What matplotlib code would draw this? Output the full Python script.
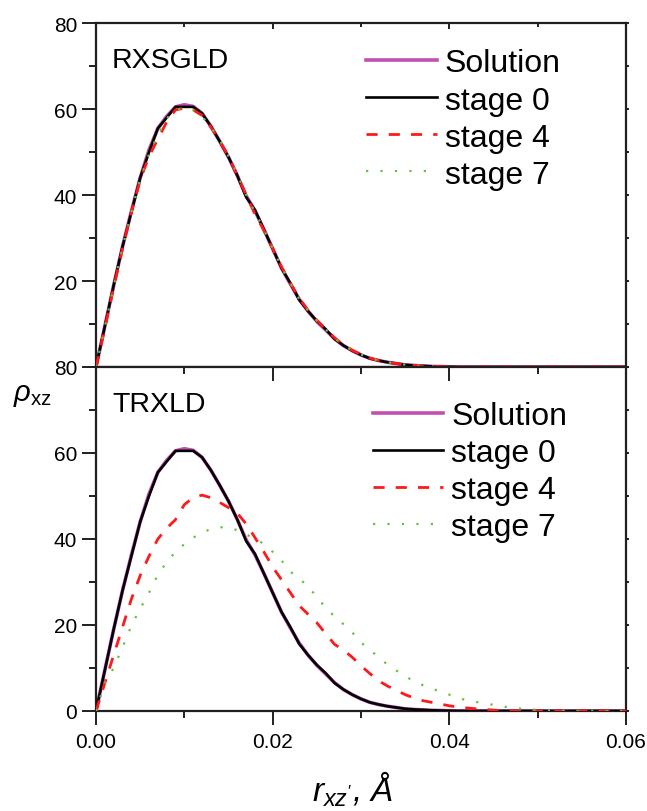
import numpy as np
import matplotlib

matplotlib.use("Agg")
import matplotlib.pyplot as plt
from matplotlib.ticker import MultipleLocator, FormatStrFormatter
from matplotlib.lines import TICKDOWN

plt.rcParams["font.family"] = ["Liberation Sans", "DejaVu Sans"]
plt.rcParams["mathtext.fontset"] = "custom"
plt.rcParams["mathtext.rm"] = "Liberation Sans"
plt.rcParams["mathtext.it"] = "Liberation Sans:italic"

# r_xz grid (Å)
r_xz = [0.000, 0.001, 0.002, 0.003, 0.004, 0.005, 0.006, 0.007, 0.008, 0.009,
        0.010, 0.011, 0.012, 0.013, 0.014, 0.015, 0.016, 0.017, 0.018, 0.019,
        0.020, 0.021, 0.022, 0.023, 0.024, 0.025, 0.026, 0.027, 0.028, 0.029,
        0.030, 0.031, 0.032, 0.033, 0.034, 0.035, 0.036, 0.037, 0.038, 0.039,
        0.040, 0.041, 0.042, 0.043, 0.044, 0.045, 0.046, 0.047, 0.048, 0.049,
        0.050, 0.051, 0.052, 0.053, 0.054, 0.055, 0.060]

solution = [0, 9.5, 19, 28, 36.2, 44, 50.5, 55.5, 58.3, 60.5,
            61, 60.6, 59, 56, 52.5, 48.8, 44.5, 39.8, 36.3, 32,
            27.5, 23, 19.3, 15.8, 13, 10.6, 8.6, 6.6, 5.0, 3.8,
            2.8, 2.0, 1.5, 1.1, 0.8, 0.5, 0.35, 0.25, 0.15, 0.1,
            0.05, 0, 0, 0, 0, 0, 0, 0, 0, 0,
            0, 0, 0, 0, 0, 0, 0]

stage0 = [0, 9.5, 19, 28, 36, 44, 50, 55.5, 58, 60.5,
          60.5, 60.5, 59, 56, 52.5, 48.8, 44.5, 39.5, 36.5, 32,
          27.5, 23, 19.5, 15.6, 13, 10.7, 8.8, 6.5, 5.0, 3.8,
          2.8, 2.0, 1.5, 1.1, 0.8, 0.5, 0.35, 0.25, 0.15, 0.1,
          0.05, 0, 0, 0, 0, 0, 0, 0, 0, 0,
          0, 0, 0, 0, 0, 0, 0]

# RXSGLD panel
rx_stage4 = [0, 9, 18.5, 27.5, 36, 43.5, 49, 53, 57, 59.8,
             60.2, 59.8, 58.5, 55.8, 52.5, 49, 44.5, 40, 35.5, 31.8,
             27.5, 23.3, 19.5, 16, 13.2, 10.9, 8.8, 6.8, 5.2, 3.9,
             2.9, 2.1, 1.5, 1.1, 0.8, 0.55, 0.4, 0.25, 0.15, 0.1,
             0.05, 0, 0, 0, 0, 0, 0, 0, 0, 0,
             0, 0, 0, 0, 0, 0, 0]

rx_stage7 = [0, 9.3, 18.8, 27.8, 36, 43.8, 49.5, 54, 57.8, 59.8,
             60.2, 59.8, 58.3, 55.8, 52.8, 49, 44.8, 40, 36, 32,
             27.6, 23.2, 19.5, 15.8, 13.2, 10.8, 8.8, 6.7, 5.1, 3.9,
             2.9, 2.1, 1.5, 1.1, 0.8, 0.55, 0.4, 0.25, 0.15, 0.1,
             0.05, 0, 0, 0, 0, 0, 0, 0, 0, 0,
             0, 0, 0, 0, 0, 0, 0]

# TRXLD panel
tr_stage4 = [0, 6.5, 13, 19.5, 26, 31.5, 36, 40, 42.5, 44.5,
             48, 49.6, 50.2, 49.6, 48.5, 47.3, 46, 43.5, 40.3, 37,
             33.5, 30.5, 27.5, 24.5, 22.5, 20.5, 18, 15.5, 14.2, 12.5,
             10.5, 8.7, 7, 5.8, 4.8, 3.8, 3.0, 2.4, 2.0, 1.6,
             1.2, 0.9, 0.7, 0.5, 0.35, 0.2, 0.1, 0.05, 0, 0,
             0, 0, 0, 0, 0, 0, 0]

tr_stage7 = [0, 6.5, 10, 14.8, 19.8, 23.8, 27.5, 31.7, 34.6, 37,
             38.8, 40.3, 41.5, 42.3, 42.7, 42.8, 42, 41, 40.2, 38.8,
             37, 35, 32.4, 30.8, 29, 26.5, 24, 22, 20.2, 18.3,
             15.9, 14.3, 12.4, 10.8, 9.4, 8.1, 6.9, 6.0, 5.2, 4.5,
             3.8, 3.0, 2.5, 2.1, 1.8, 1.4, 1.05, 0.8, 0.55, 0.4,
             0.25, 0.15, 0.1, 0.05, 0, 0, 0]

labels = ["Solution", "stage 0", "stage 4", "stage 7"]
x_ticks = [0.00, 0.02, 0.04, 0.06]
y_ticks = [0, 20, 40, 60, 80]
spine_color = "#231f20"


def draw_panel(ax, title, s4, s7, legend_xy):
    ax.plot(r_xz, solution, color="#c050b0", lw=2.6, label=labels[0], zorder=2)
    ax.plot(r_xz, stage0, color="black", lw=1.9, label=labels[1], zorder=3)
    ax.plot(r_xz, s4, color="#ff1a1a", lw=2.0, ls=(0, (4, 4)), label=labels[2], zorder=4)
    ax.plot(r_xz, s7, color="#66c13c", lw=1.6, ls=(0, (1, 5.5)), label=labels[3], zorder=5)

    ax.set_xlim(0, 0.06)
    ax.set_ylim(0, 80)
    ax.set_xticks(x_ticks)
    ax.set_yticks(y_ticks)
    ax.yaxis.set_minor_locator(MultipleLocator(10))
    ax.xaxis.set_minor_locator(MultipleLocator(0.01))
    ax.xaxis.set_major_formatter(FormatStrFormatter("%.2f"))

    for sp in ax.spines.values():
        sp.set_color(spine_color)
        sp.set_linewidth(1.6)

    ax.tick_params(axis="both", which="both", direction="out", color=spine_color,
                   width=1.4, labelsize=15, top=True, right=True)
    ax.tick_params(axis="both", which="major", length=10)
    ax.tick_params(axis="both", which="minor", length=5)
    ax.tick_params(axis="x", which="major", pad=5)

    # short outward marks on the right spine
    for t in ax.yaxis.get_major_ticks() + ax.yaxis.get_minor_ticks():
        t.tick2line.set_markersize(2)

    ax.text(0.03, 0.93, title, transform=ax.transAxes, fontsize=20.5,
            ha="left", va="top")
    ax.legend(loc="upper left", bbox_to_anchor=legend_xy, frameon=False,
              fontsize=23, handlelength=2.2, handletextpad=0.25,
              labelspacing=0.22, borderaxespad=0, borderpad=0)


fig = plt.figure(figsize=(6.47, 8.12), dpi=100)
ax_top = fig.add_axes([0.1484, 0.5468, 0.8192, 0.4236])
ax_bot = fig.add_axes([0.1484, 0.1232, 0.8192, 0.4236])

draw_panel(ax_top, "RXSGLD", rx_stage4, rx_stage7, legend_xy=(0.51, 0.926))
draw_panel(ax_bot, "TRXLD", tr_stage4, tr_stage7, legend_xy=(0.523, 0.902))

# upper panel: no ticks on its lower edge, the 0 label is covered by the lower panel's 80
ax_top.tick_params(axis="x", which="both", bottom=False, labelbottom=False)
ax_top.set_yticks([20, 40, 60, 80])
for t in ax_top.xaxis.get_major_ticks():
    t.tick2line.set_marker(TICKDOWN)
    t.tick2line.set_markersize(4)
for t in ax_top.xaxis.get_minor_ticks():
    t.tick2line.set_marker(TICKDOWN)
    t.tick2line.set_markersize(3)
for t in ax_top.yaxis.get_major_ticks() + ax_top.yaxis.get_minor_ticks():
    t.tick2line.set_markersize(2)

# lower panel: ticks along the shared border point down into the panel
for t in ax_bot.xaxis.get_major_ticks() + ax_bot.xaxis.get_minor_ticks():
    t.tick2line.set_marker(TICKDOWN)

fig.text(0.02, 0.513, r"$\rho_{\mathrm{xz}}$", fontsize=21, ha="left", va="center")
fig.text(0.545, 0.004, r"$r_{xz'}$, Å", fontsize=24, style="italic",
         ha="center", va="bottom")

fig.savefig("out.png", dpi=100)
